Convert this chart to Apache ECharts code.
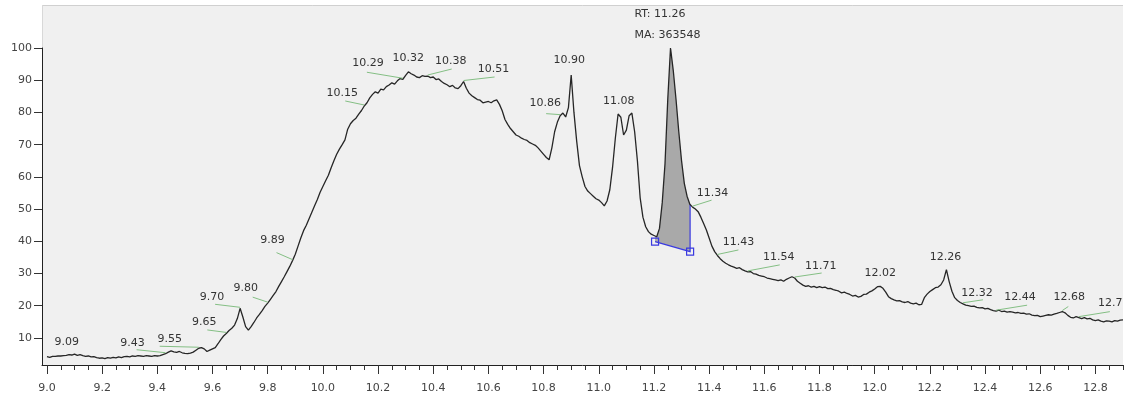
<!DOCTYPE html>
<html>
<head>
<meta charset="utf-8">
<script src="https://cdn.jsdelivr.net/npm/echarts@6/dist/echarts.min.js"></script>
<style>
  html, body { margin: 0; padding: 0; background: #ffffff; }
  #chart { width: 1133px; height: 405px; }
</style>
</head>
<body>
<div id="chart"></div>
<script>
// Chromatogram trace: retention time (min) and relative abundance (%)
const retentionTime = [
  9.00, 9.01, 9.02, 9.03, 9.04, 9.05, 9.06, 9.07, 9.08, 9.09,
  9.10, 9.11, 9.12, 9.13, 9.14, 9.15, 9.16, 9.17, 9.18, 9.19,
  9.20, 9.21, 9.22, 9.23, 9.24, 9.25, 9.26, 9.27, 9.28, 9.29,
  9.30, 9.31, 9.32, 9.33, 9.34, 9.35, 9.36, 9.37, 9.38, 9.39,
  9.40, 9.41, 9.42, 9.43, 9.44, 9.45, 9.46, 9.47, 9.48, 9.49,
  9.50, 9.51, 9.52, 9.53, 9.54, 9.55, 9.56, 9.57, 9.58, 9.59,
  9.60, 9.61, 9.62, 9.63, 9.64, 9.65, 9.66, 9.67, 9.68, 9.69,
  9.70, 9.71, 9.72, 9.73, 9.74, 9.75, 9.76, 9.77, 9.78, 9.79,
  9.80, 9.81, 9.82, 9.83, 9.84, 9.85, 9.86, 9.87, 9.88, 9.89,
  9.90, 9.91, 9.92, 9.93, 9.94, 9.95, 9.96, 9.97, 9.98, 9.99,
  10.00, 10.01, 10.02, 10.03, 10.04, 10.05, 10.06, 10.07, 10.08, 10.09,
  10.10, 10.11, 10.12, 10.13, 10.14, 10.15, 10.16, 10.17, 10.18, 10.19,
  10.20, 10.21, 10.22, 10.23, 10.24, 10.25, 10.26, 10.27, 10.28, 10.29,
  10.30, 10.31, 10.32, 10.33, 10.34, 10.35, 10.36, 10.37, 10.38, 10.39,
  10.40, 10.41, 10.42, 10.43, 10.44, 10.45, 10.46, 10.47, 10.48, 10.49,
  10.50, 10.51, 10.52, 10.53, 10.54, 10.55, 10.56, 10.57, 10.58, 10.59,
  10.60, 10.61, 10.62, 10.63, 10.64, 10.65, 10.66, 10.67, 10.68, 10.69,
  10.70, 10.71, 10.72, 10.73, 10.74, 10.75, 10.76, 10.77, 10.78, 10.79,
  10.80, 10.81, 10.82, 10.83, 10.84, 10.85, 10.86, 10.87, 10.88, 10.89,
  10.90, 10.91, 10.92, 10.93, 10.94, 10.95, 10.96, 10.97, 10.98, 10.99,
  11.00, 11.01, 11.02, 11.03, 11.04, 11.05, 11.06, 11.07, 11.08, 11.09,
  11.10, 11.11, 11.12, 11.13, 11.14, 11.15, 11.16, 11.17, 11.18, 11.19,
  11.20, 11.21, 11.22, 11.23, 11.24, 11.25, 11.26, 11.27, 11.28, 11.29,
  11.30, 11.31, 11.32, 11.33, 11.34, 11.35, 11.36, 11.37, 11.38, 11.39,
  11.40, 11.41, 11.42, 11.43, 11.44, 11.45, 11.46, 11.47, 11.48, 11.49,
  11.50, 11.51, 11.52, 11.53, 11.54, 11.55, 11.56, 11.57, 11.58, 11.59,
  11.60, 11.61, 11.62, 11.63, 11.64, 11.65, 11.66, 11.67, 11.68, 11.69,
  11.70, 11.71, 11.72, 11.73, 11.74, 11.75, 11.76, 11.77, 11.78, 11.79,
  11.80, 11.81, 11.82, 11.83, 11.84, 11.85, 11.86, 11.87, 11.88, 11.89,
  11.90, 11.91, 11.92, 11.93, 11.94, 11.95, 11.96, 11.97, 11.98, 11.99,
  12.00, 12.01, 12.02, 12.03, 12.04, 12.05, 12.06, 12.07, 12.08, 12.09,
  12.10, 12.11, 12.12, 12.13, 12.14, 12.15, 12.16, 12.17, 12.18, 12.19,
  12.20, 12.21, 12.22, 12.23, 12.24, 12.25, 12.26, 12.27, 12.28, 12.29,
  12.30, 12.31, 12.32, 12.33, 12.34, 12.35, 12.36, 12.37, 12.38, 12.39,
  12.40, 12.41, 12.42, 12.43, 12.44, 12.45, 12.46, 12.47, 12.48, 12.49,
  12.50, 12.51, 12.52, 12.53, 12.54, 12.55, 12.56, 12.57, 12.58, 12.59,
  12.60, 12.61, 12.62, 12.63, 12.64, 12.65, 12.66, 12.67, 12.68, 12.69,
  12.70, 12.71, 12.72, 12.73, 12.74, 12.75, 12.76, 12.77, 12.78, 12.79,
  12.80, 12.81, 12.82, 12.83, 12.84, 12.85, 12.86, 12.87, 12.88, 12.89,
  12.90
];
const relAbundance = [
  4.2, 4.0, 4.3, 4.3, 4.4, 4.4, 4.5, 4.6, 4.8, 4.7,
  5.0, 4.6, 4.8, 4.5, 4.3, 4.4, 4.1, 4.2, 3.9, 3.7,
  3.8, 3.6, 3.9, 3.7, 4.0, 3.8, 4.1, 3.9, 4.2, 4.3,
  4.1, 4.4, 4.3, 4.5, 4.4, 4.3, 4.5, 4.4, 4.3, 4.5,
  4.4, 4.5, 4.8, 5.1, 5.6, 6.0, 5.7, 5.5, 5.8, 5.4,
  5.2, 5.1, 5.3, 5.6, 6.2, 6.8, 7.0, 6.6, 5.8, 6.2,
  6.6, 7.0, 8.2, 9.5, 10.6, 11.4, 12.3, 13.0, 14.0, 16.0,
  19.2, 16.5, 13.5, 12.4, 13.5, 14.8, 16.2, 17.3, 18.5, 19.8,
  20.8, 22.0, 23.2, 24.4, 26.0, 27.5, 29.0, 30.6, 32.2, 34.0,
  36.0, 38.5, 41.0, 43.3, 45.0, 47.0, 49.0, 51.0, 53.0, 55.2,
  57.0, 58.8, 60.5, 62.8, 65.0, 67.0, 68.6, 70.0, 71.5, 74.8,
  76.5, 77.5, 78.2, 79.5, 80.6, 82.0, 83.0, 84.5, 85.6, 86.4,
  86.0, 87.2, 87.0, 88.0, 88.5, 89.2, 88.8, 89.8, 90.5, 90.3,
  91.5, 92.6, 92.0, 91.6, 91.0, 90.8, 91.4, 91.2, 91.3, 90.8,
  91.0, 90.2, 90.4, 89.6, 89.0, 88.6, 88.0, 88.4, 87.6, 87.4,
  88.3, 89.6, 87.5, 86.0, 85.2, 84.6, 84.0, 83.8, 83.0, 83.2,
  83.4, 83.0, 83.6, 83.9, 82.5, 80.5, 77.8, 76.3, 75.0, 74.0,
  73.0, 72.6, 72.0, 71.6, 71.3, 70.6, 70.2, 69.8, 69.0, 68.0,
  67.0, 66.0, 65.3, 69.0, 74.0, 77.0, 79.0, 79.8, 78.6, 81.5,
  91.6, 80.0, 71.0, 63.5, 60.0, 57.0, 55.6, 54.8, 54.0, 53.2,
  52.8, 52.0, 51.0, 52.5, 56.0, 63.0, 72.0, 79.5, 78.5, 73.0,
  74.5, 79.0, 79.8, 74.0, 65.0, 53.5, 47.5, 44.5, 43.0, 42.2,
  41.8, 41.4, 44.0, 52.0, 64.0, 84.0, 100.0, 93.0, 84.0, 74.0,
  65.0, 58.0, 54.0, 51.5, 50.6, 50.0, 49.2, 47.5, 45.5, 43.5,
  41.0, 38.5, 36.8, 35.6, 34.6, 33.8, 33.2, 32.7, 32.3, 32.0,
  31.6, 31.8, 31.2, 30.8, 30.5, 30.6, 30.0, 29.8, 29.4, 29.2,
  29.0, 28.6, 28.4, 28.2, 28.0, 27.8, 28.0, 27.6, 28.2, 28.6,
  29.0, 28.6, 27.6, 27.0, 26.4, 26.0, 26.2, 25.8, 26.0, 25.6,
  25.9, 25.6, 25.8, 25.3, 25.4, 25.0, 24.8, 24.5, 24.0, 24.2,
  23.8, 23.5, 23.0, 23.2, 22.7, 22.9, 23.5, 23.6, 24.2, 24.6,
  25.2, 25.9, 26.0, 25.4, 24.2, 22.8, 22.2, 21.8, 21.5, 21.6,
  21.2, 21.0, 21.3, 20.8, 20.6, 20.8, 20.3, 20.4, 22.5, 23.6,
  24.4, 25.0, 25.6, 25.8, 26.5, 28.0, 31.2, 27.5, 24.5, 22.5,
  21.6, 21.0, 20.6, 20.2, 20.0, 19.8, 19.9, 19.5, 19.3, 19.4,
  19.0, 19.2, 18.8, 18.5, 18.3, 18.6, 18.2, 18.3, 18.0, 18.2,
  18.0, 17.8, 17.9, 17.6, 17.7, 17.4, 17.5, 17.1, 16.9, 17.0,
  16.6, 16.8, 17.0, 17.2, 17.1, 17.4, 17.6, 17.9, 18.2, 17.8,
  17.0, 16.4, 16.2, 16.6, 16.3, 16.0, 16.3, 15.9, 16.1, 15.6,
  15.4, 15.6, 15.2, 15.0, 15.3, 15.2, 15.0, 15.4, 15.2, 15.5,
  15.6
];

// Axis tick labels
const xTickLabels = [9.0, 9.2, 9.4, 9.6, 9.8, 10.0, 10.2, 10.4, 10.6, 10.8,
                     11.0, 11.2, 11.4, 11.6, 11.8, 12.0, 12.2, 12.4, 12.6, 12.8];
const yTickLabels = [10, 20, 30, 40, 50, 60, 70, 80, 90, 100];

// Detected peak retention times
const peakRT = [9.09, 9.43, 9.55, 9.65, 9.70, 9.80, 9.89, 10.15, 10.29, 10.32,
                10.38, 10.51, 10.86, 10.90, 11.08, 11.34, 11.43, 11.54, 11.71,
                12.02, 12.26, 12.32, 12.44, 12.68, 12.74];

// Integrated peak: apex RT, manual area, baseline start/end [RT, abundance]
const apexRT = 11.26;
const apexArea = 363548;
const integrationStart = [11.204, 39.9];
const integrationEnd = [11.331, 36.8];

// Label placement in pixels: [text dx, text dy, leader end [dx, dy] or null]
const labelPlacement = [
  [-5, -13, null], [-33, -11, [-29, -4]], [-29, -9, [-39, -2]], [-22, -11.5, [-19, -3.5]],
  [-28, -11, [-25, -4]], [-22, -15, [-15, -6]], [-20, -20, [-16, -8]], [-22, -13, [-19, -5]],
  [-35, -16, [-36, -7]], [-3, -16, null], [23, -15, [24, -7]], [30, -12, [31, -4.5]],
  [-15, -13, [-14, -2]], [-2, -15, null], [-2, -16, null], [20, -14, [19, -7]],
  [21, -13, [21, -5.5]], [31, -15, [32, -7]], [26, -12, [27, -5]], [0, -13, null],
  [-1, -13, null], [14, -11, [20, -4]], [24, -14, [31, -6]], [7, -14, [6, -5]],
  [35, -15, [31, -6]]
];

const FONT = '11px "DejaVu Sans"';
const LEADER = '#84bf84';
const BLUE = '#3a3ae0';

// Linear interpolation of the trace at a retention time
function abundanceAt(t) {
  for (let i = 1; i < retentionTime.length; i++) {
    if (retentionTime[i] >= t) {
      const t0 = retentionTime[i - 1], t1 = retentionTime[i];
      const f = (t - t0) / (t1 - t0);
      return relAbundance[i - 1] + f * (relAbundance[i] - relAbundance[i - 1]);
    }
  }
  return relAbundance[relAbundance.length - 1];
}

const traceData = retentionTime.map((t, i) => [t, relAbundance[i]]);

const minorTicks = [];
for (let k = 0; k <= 78; k++) minorTicks.push(+(9.0 + k * 0.05).toFixed(2));

function renderPeakLabel(params, api) {
  const rt = api.value(0);
  const p = api.coord([rt, abundanceAt(rt)]);
  const place = labelPlacement[params.dataIndex];
  const children = [];
  if (place[2]) {
    children.push({
      type: 'line',
      shape: { x1: p[0], y1: p[1] - 1, x2: p[0] + place[2][0], y2: p[1] + place[2][1] },
      style: { stroke: LEADER, lineWidth: 1 }
    });
  }
  children.push({
    type: 'text',
    x: p[0] + place[0],
    y: p[1] + place[1],
    style: { text: rt.toFixed(2), fill: '#333333', font: FONT, align: 'center', verticalAlign: 'middle' }
  });
  return { type: 'group', children };
}

function renderApexLabel(params, api) {
  const p = api.coord([apexRT, abundanceAt(apexRT)]);
  return {
    type: 'group',
    children: [
      { type: 'text', x: p[0] - 36, y: p[1] - 34,
        style: { text: 'RT: ' + apexRT.toFixed(2), fill: '#333333', font: FONT, align: 'left', verticalAlign: 'middle' } },
      { type: 'text', x: p[0] - 36, y: p[1] - 13,
        style: { text: 'MA: ' + apexArea, fill: '#333333', font: FONT, align: 'left', verticalAlign: 'middle' } }
    ]
  };
}

function renderIntegration(params, api) {
  const b0 = api.coord(integrationStart);
  const b1 = api.coord(integrationEnd);
  const top1 = api.coord([integrationEnd[0], abundanceAt(integrationEnd[0])]);
  const pts = [b0, api.coord([integrationStart[0], abundanceAt(integrationStart[0])])];
  for (let i = 0; i < retentionTime.length; i++) {
    const t = retentionTime[i];
    if (t > integrationStart[0] && t < integrationEnd[0]) pts.push(api.coord([t, relAbundance[i]]));
  }
  pts.push(top1, b1);
  const sq = 7;
  return {
    type: 'group',
    children: [
      { type: 'polygon', shape: { points: pts }, style: { fill: '#a9a9a9', stroke: null } },
      { type: 'polyline', shape: { points: [b0, b1, top1] }, style: { stroke: BLUE, lineWidth: 1.2, fill: null } },
      { type: 'rect', shape: { x: b0[0] - sq / 2, y: b0[1] - sq / 2, width: sq, height: sq },
        style: { stroke: BLUE, lineWidth: 1.2, fill: 'rgba(0,0,0,0)' } },
      { type: 'rect', shape: { x: b1[0] - sq / 2, y: b1[1] - sq / 2, width: sq, height: sq },
        style: { stroke: BLUE, lineWidth: 1.2, fill: 'rgba(0,0,0,0)' } }
    ]
  };
}

const chart = echarts.init(document.getElementById('chart'), null, { renderer: 'canvas' });

chart.setOption({
  animation: false,
  backgroundColor: '#ffffff',
  grid: { left: 42, right: 10, top: 48, bottom: 40, containLabel: false },
  graphic: [
    { type: 'rect', z: -10, silent: true,
      shape: { x: 42, y: 5, width: 1081, height: 360 }, style: { fill: '#f0f0f0' } },
    { type: 'line', z: -9, silent: true,
      shape: { x1: 42, y1: 5.5, x2: 1123, y2: 5.5 }, style: { stroke: '#d0d0d0', lineWidth: 1 } },
    { type: 'line', z: -9, silent: true,
      shape: { x1: 42.5, y1: 5, x2: 42.5, y2: 48 }, style: { stroke: '#d8d8d8', lineWidth: 1 } },
    { type: 'rect', z: 100, silent: true,
      shape: { x: 1123, y: 0, width: 10, height: 362 }, style: { fill: '#ffffff' } }
  ],
  xAxis: [
    {
      type: 'value', min: 8.982, max: 12.9,
      axisLine: { show: true, lineStyle: { color: '#222', width: 1 } },
      axisTick: { show: true, length: 5, customValues: minorTicks, lineStyle: { color: '#333' } },
      axisLabel: {
        show: true, customValues: xTickLabels, margin: 18,
        formatter: v => v.toFixed(1), color: '#444444', fontFamily: 'DejaVu Sans', fontSize: 11
      },
      splitLine: { show: false }
    },
    {
      type: 'value', min: 8.982, max: 12.9, position: 'bottom',
      axisLine: { show: false },
      axisTick: { show: true, length: 9, customValues: xTickLabels, lineStyle: { color: '#333' } },
      axisLabel: { show: false },
      splitLine: { show: false }
    }
  ],
  yAxis: {
    type: 'value', min: 1.6, max: 100,
    axisLine: { show: true, lineStyle: { color: '#222', width: 1 } },
    axisTick: { show: true, length: 8, customValues: yTickLabels, lineStyle: { color: '#333' } },
    axisLabel: {
      show: true, customValues: yTickLabels, margin: 10,
      color: '#444444', fontFamily: 'DejaVu Sans', fontSize: 11
    },
    splitLine: { show: false }
  },
  series: [
    {
      type: 'custom', name: 'integration', xAxisIndex: 0, yAxisIndex: 0,
      silent: true, z: 1, data: [[integrationStart[0], integrationStart[1]]],
      renderItem: renderIntegration
    },
    {
      type: 'line', name: 'trace', xAxisIndex: 0, yAxisIndex: 0,
      data: traceData, showSymbol: false, silent: true, z: 3, clip: false,
      lineStyle: { color: '#262626', width: 1.3 }
    },
    {
      type: 'custom', name: 'peaks', xAxisIndex: 0, yAxisIndex: 0,
      silent: true, z: 4, data: peakRT.map(rt => [rt, 0]),
      renderItem: renderPeakLabel
    },
    {
      type: 'custom', name: 'apex', xAxisIndex: 0, yAxisIndex: 0,
      silent: true, z: 4, data: [[apexRT, 0]],
      renderItem: renderApexLabel
    }
  ]
});
</script>
</body>
</html>
